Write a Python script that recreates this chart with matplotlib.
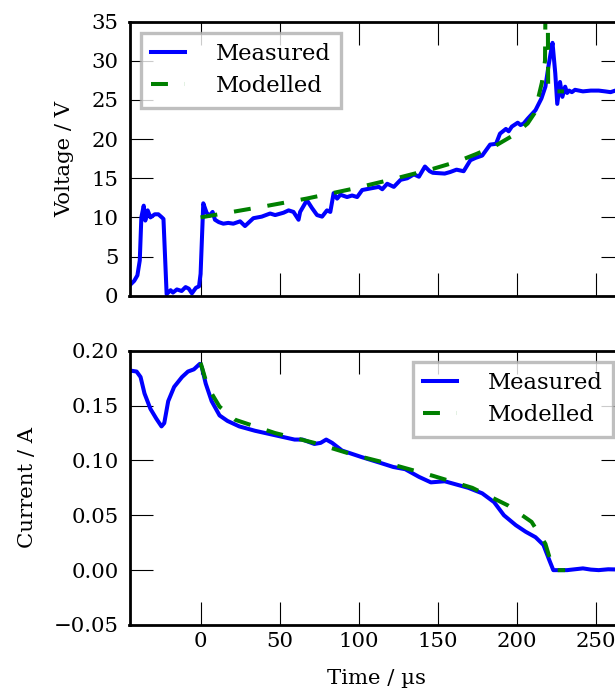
import matplotlib
matplotlib.use("Agg")
import matplotlib.pyplot as plt

# ---- data ----
t_volt_meas = [-45, -42, -40, -38.5, -37.5, -36, -35, -33.5, -31.75, -29, -26.75, -24.5, -23.5, -22.5,
               -21.5, -19, -17.5, -15, -12, -9.5, -7.5, -5.5, -3, -1, 0, 1.7, 3.8, 5.5, 7.6, 9.1, 11.5,
               14.4, 17.5, 20.7, 25, 28.1, 33.4, 38.7, 44, 47.2, 52.5, 55.7, 58.8, 62, 63, 67.3, 70.5,
               73.7, 76.9, 80, 82.1, 84.2, 86.4, 88.5, 92.7, 95.9, 99.1, 102.3, 107.5, 112.8, 115, 118.1,
               122.3, 126.6, 130.8, 135, 138.2, 142, 145, 147, 154.5, 158, 162, 166.5, 170.75, 174,
               178.25, 183.25, 187, 189.5, 193.25, 195, 197, 200.75, 202.5, 204.5, 207, 212, 215.75,
               218.25, 220.25, 221.5, 222.75, 224.5, 225.75, 227.5, 229, 230.75, 232, 233.25, 235, 237,
               242, 247, 252, 256, 259.5, 264, 268]
volt_meas = [1.3, 1.9, 2.6, 4.5, 10.0, 11.5, 9.6, 10.9, 10.0, 10.4, 10.4, 10.0, 9.8, 5.0,
             0.2, 0.7, 0.4, 0.8, 0.6, 1.1, 0.9, 0.3, 1.0, 1.2, 2.8, 11.8, 10.6, 10.2, 10.7, 9.7, 9.4,
             9.2, 9.3, 9.2, 9.5, 8.9, 9.9, 10.1, 10.5, 10.3, 10.6, 10.9, 10.7, 9.7, 10.7, 12.2, 11.2,
             10.3, 10.1, 10.9, 10.7, 13.1, 12.4, 12.9, 12.6, 12.8, 12.6, 13.5, 13.7, 13.9, 13.6, 14.3,
             13.9, 14.8, 15.0, 15.5, 15.2, 16.5, 15.9, 15.7, 15.6, 15.8, 16.1, 15.9, 17.3, 17.6,
             17.9, 19.3, 19.4, 20.7, 21.3, 21.0, 21.6, 22.1, 21.8, 22.0, 22.6, 23.7, 25.2,
             26.7, 29.4, 30.9, 32.3, 28.4, 24.5, 27.3, 25.4, 26.7, 25.9, 26.2, 26.0, 26.3,
             26.1, 26.2, 26.2, 26.1, 26.0, 26.3, 26.2]

t_volt_model = [0, 20, 40, 67, 95, 122, 147, 162, 174.5, 187, 198, 207, 211.3, 214, 216, 218, 219.3, 220, 230]
volt_model = [10.0, 10.7, 11.4, 12.4, 13.6, 14.9, 16.2, 17.1, 18.1, 19.2, 20.5, 22.0, 23.3, 25.5, 27.2, 30.0, 60.0, 26.1, 26.1]

t_curr_meas = [-45, -40.5, -38, -35.5, -31.75, -28, -24.75, -23, -20.5, -16.75, -11.75, -8, -4.25, -0.5,
               0.75, 3.25, 7, 12, 17, 24.5, 34.5, 47, 59.5, 64.5, 72, 76, 79.5, 83.25, 89.5, 102,
               113.25, 122, 129.5, 138.25, 145.75, 154.5, 162, 169.5, 178.25, 185.75, 192, 199.5,
               205.75, 212, 217, 220.75, 223.25, 232, 242, 247, 252, 258, 264, 268]
curr_meas = [0.182, 0.181, 0.176, 0.161, 0.147, 0.138, 0.131, 0.134, 0.154, 0.167, 0.176, 0.181, 0.183, 0.188,
             0.185, 0.170, 0.154, 0.141, 0.136, 0.131, 0.127, 0.123, 0.119, 0.119, 0.115, 0.116, 0.119, 0.116,
             0.109, 0.103, 0.098, 0.094, 0.092, 0.085, 0.080, 0.081, 0.078, 0.075, 0.070, 0.062, 0.050, 0.041,
             0.035, 0.030, 0.023, 0.009, 0.000, 0.000, 0.0016, 0.0005, 0.000, 0.0008, 0.0006, 0.0]

t_curr_model = [0, 4.5, 12, 22, 47, 72, 97, 122, 147, 172, 194.5, 209.5, 218.25, 222, 224.5, 230.75]
curr_model = [0.189, 0.167, 0.149, 0.137, 0.125, 0.116, 0.105, 0.096, 0.086, 0.075, 0.059, 0.044, 0.024, 0.006, 0.0, 0.0]

labels = ["Measured", "Modelled"]
volt_ticks = [0, 5, 10, 15, 20, 25, 30, 35]
curr_ticks = [-0.05, 0.00, 0.05, 0.10, 0.15, 0.20]
time_ticks = [0, 50, 100, 150, 200, 250]

# ---- style ----
FS = 15.3
LFS = 16.3
plt.rcParams['font.family'] = ['DejaVu Serif']
plt.rcParams['font.size'] = FS
plt.rcParams['axes.unicode_minus'] = True
plt.rcParams['lines.scale_dashes'] = False

W, H = 615, 693
fig = plt.figure(figsize=(W / 100, H / 100), dpi=100)

left_px, right_px = 129.5, 624
ax1 = fig.add_axes([left_px / W, (H - 295.7) / H, (right_px - left_px) / W, 274 / H])
ax2 = fig.add_axes([left_px / W, (H - 625) / H, (right_px - left_px) / W, 274.3 / H])

dash = (12.2, 12.2)
lw = 2.9

def style(ax):
    for s in ax.spines.values():
        s.set_linewidth(2.0)
    ax.tick_params(which='both', direction='in', length=16.5, width=0.8,
                   top=True, right=True, labelsize=FS)
    ax.tick_params(axis='x', pad=5)
    ax.tick_params(axis='y', pad=8)

ax1.plot(t_volt_meas, volt_meas, color='#0000ff', lw=lw, label=labels[0], solid_capstyle='projecting')
ax1.plot(t_volt_model, volt_model, color='#008000', lw=lw, dashes=dash, label=labels[1])
ax1.set_xlim(-45, 268)
ax1.set_ylim(0, 35)
ax1.set_yticks(volt_ticks)
ax1.set_xticks(time_ticks)
ax1.set_xticklabels([])
ax1.set_ylabel("Voltage / V", labelpad=12)
style(ax1)

ax2.plot(t_curr_meas, curr_meas, color='#0000ff', lw=lw, label=labels[0], solid_capstyle='projecting')
ax2.plot(t_curr_model, curr_model, color='#008000', lw=lw, dashes=dash, label=labels[1])
ax2.set_xlim(-45, 268)
ax2.set_ylim(-0.05, 0.20)
ax2.set_yticks(curr_ticks)
ax2.set_xticks(time_ticks)
ax2.set_xlabel("Time / \u00b5s", labelpad=13)
ax2.set_ylabel("Current / A", labelpad=12)
style(ax2)

leg_kw = dict(fontsize=LFS, frameon=True, fancybox=False, handlelength=1.5,
              handletextpad=1.35, borderpad=0.45, labelspacing=0.45, borderaxespad=0.5)
for ax, loc in ((ax1, 'upper left'), (ax2, 'upper right')):
    leg = ax.legend(loc=loc, **leg_kw)
    fr = leg.get_frame()
    fr.set_edgecolor('#b0b0b0')
    fr.set_linewidth(2.4)
    fr.set_facecolor('white')
    leg.set_zorder(2.2)

fig.savefig("out.png", dpi=100)
